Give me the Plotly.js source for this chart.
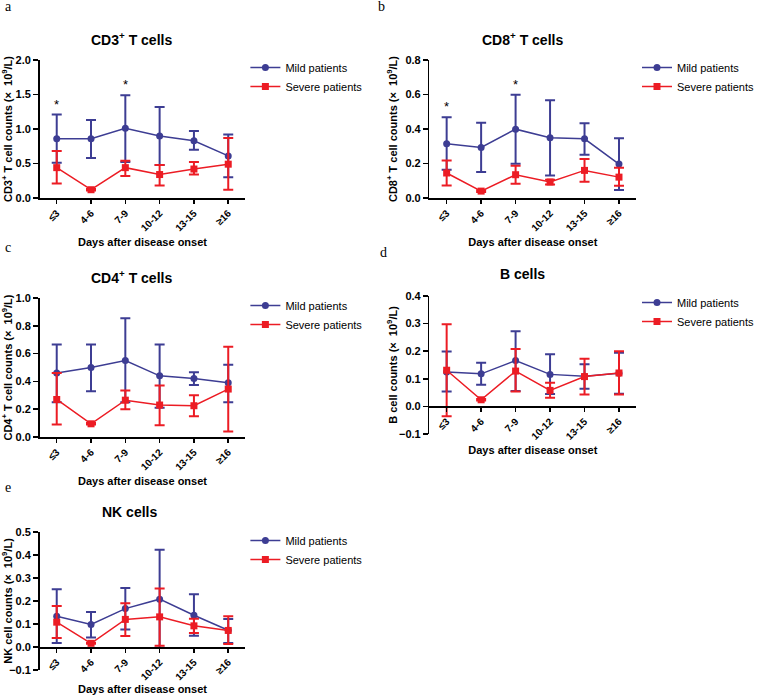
<!DOCTYPE html>
<html>
<head>
<meta charset="utf-8">
<script src="https://cdn.plot.ly/plotly-3.0.1.min.js"></script>
<style>html,body{margin:0;padding:0;background:#fff;}#chart{width:759px;height:695px;}</style>
</head>
<body>
<div id="chart"></div>
<script>
// ---------- data ----------
const categories = ["≤3", "4-6", "7-9", "10-12", "13-15", "≥16"];
const seriesNames = ["Mild patients", "Severe patients"];

const cd3Mild        = [0.86, 0.86, 1.01, 0.90, 0.83, 0.61];
const cd3MildUpper   = [1.21, 1.13, 1.49, 1.32, 0.97, 0.92];
const cd3MildLower   = [0.51, 0.58, 0.52, 0.48, 0.70, 0.30];
const cd3Severe      = [0.44, 0.12, 0.44, 0.34, 0.42, 0.49];
const cd3SevereUpper = [0.68, 0.13, 0.54, 0.48, 0.52, 0.87];
const cd3SevereLower = [0.21, 0.11, 0.32, 0.18, 0.34, 0.12];
const cd3Signif      = ["*", "", "*", "", "", ""];

const cd8Mild        = [0.315, 0.293, 0.399, 0.350, 0.343, 0.197];
const cd8MildUpper   = [0.468, 0.436, 0.598, 0.567, 0.434, 0.347];
const cd8MildLower   = [0.164, 0.150, 0.199, 0.131, 0.251, 0.046];
const cd8Severe      = [0.145, 0.040, 0.135, 0.093, 0.160, 0.121];
const cd8SevereUpper = [0.218, 0.045, 0.187, 0.106, 0.226, 0.175];
const cd8SevereLower = [0.073, 0.035, 0.083, 0.078, 0.094, 0.071];
const cd8Signif      = ["*", "", "*", "", "", ""];

const cd4Mild        = [0.46, 0.50, 0.55, 0.44, 0.42, 0.39];
const cd4MildUpper   = [0.665, 0.665, 0.855, 0.665, 0.465, 0.52];
const cd4MildLower   = [0.25, 0.33, 0.25, 0.21, 0.375, 0.25];
const cd4Severe      = [0.27, 0.095, 0.265, 0.23, 0.225, 0.345];
const cd4SevereUpper = [0.46, 0.10, 0.335, 0.37, 0.30, 0.65];
const cd4SevereLower = [0.09, 0.09, 0.20, 0.085, 0.15, 0.04];
const cd4Signif      = ["", "", "", "", "", ""];

const bMild          = [0.125, 0.118, 0.166, 0.116, 0.109, 0.120];
const bMildUpper     = [0.199, 0.158, 0.272, 0.189, 0.153, 0.194];
const bMildLower     = [0.054, 0.078, 0.056, 0.045, 0.064, 0.046];
const bSevere        = [0.131, 0.024, 0.128, 0.058, 0.108, 0.121];
const bSevereUpper   = [0.298, 0.027, 0.208, 0.086, 0.173, 0.200];
const bSevereLower   = [-0.036, 0.021, 0.054, 0.031, 0.043, 0.043];
const bSignif        = ["", "", "", "", "", ""];

const nkMild         = [0.134, 0.098, 0.167, 0.208, 0.138, 0.073];
const nkMildUpper    = [0.251, 0.152, 0.257, 0.423, 0.229, 0.122];
const nkMildLower    = [0.017, 0.041, 0.076, -0.003, 0.049, 0.017];
const nkSevere       = [0.108, 0.016, 0.120, 0.131, 0.092, 0.072];
const nkSevereUpper  = [0.178, 0.018, 0.190, 0.254, 0.123, 0.134];
const nkSevereLower  = [0.039, 0.014, 0.048, 0.005, 0.061, 0.013];
const nkSignif       = ["", "", "", "", "", ""];

const panelTitles = ["CD3<sup>+</sup> T cells", "CD8<sup>+</sup> T cells", "CD4<sup>+</sup> T cells", "B cells", "NK cells"];
const yTitles = [
  "CD3<sup>+</sup> T cell counts (×  10<sup>9</sup>/L)",
  "CD8<sup>+</sup> T cell counts (×  10<sup>9</sup>/L)",
  "CD4<sup>+</sup> T cell counts (×  10<sup>9</sup>/L)",
  "B cell counts (×  10<sup>9</sup>/L)",
  "NK cell counts (×  10<sup>9</sup>/L)"
];
const panelLetters = ["a", "b", "c", "d", "e"];
const xTitle = "Days after disease onset";
const yRanges = [[0, 2], [0, 0.8], [0, 1], [-0.1, 0.4], [-0.1, 0.5]];
const yDticks = [0.5, 0.2, 0.2, 0.1, 0.1];

// ---------- layout geometry (pixels) ----------
const W = 759, H = 695;
const px = v => v / W;
const py = v => 1 - v / H;
const geo = [
  {l: 40,  r: 248, t: 60,  b: 198, tx: 133, ty: 39,  lx: 248, ly: 53,  letx: 3,   lety: 7},
  {l: 434, r: 643, t: 60,  b: 198, tx: 528, ty: 39,  lx: 644, ly: 53,  letx: 380, lety: 7},
  {l: 40,  r: 248, t: 298, b: 437, tx: 133, ty: 277, lx: 248, ly: 291, letx: 3,   lety: 248},
  {l: 434, r: 643, t: 296, b: 434, tx: 528, ty: 274, lx: 644, ly: 288, letx: 382, lety: 252},
  {l: 40,  r: 248, t: 532, b: 670, tx: 131, ty: 512, lx: 248, ly: 526, letx: 3,   lety: 487}
];

const panelData = [
  [cd3Mild, cd3MildUpper, cd3MildLower, cd3Severe, cd3SevereUpper, cd3SevereLower, cd3Signif],
  [cd8Mild, cd8MildUpper, cd8MildLower, cd8Severe, cd8SevereUpper, cd8SevereLower, cd8Signif],
  [cd4Mild, cd4MildUpper, cd4MildLower, cd4Severe, cd4SevereUpper, cd4SevereLower, cd4Signif],
  [bMild, bMildUpper, bMildLower, bSevere, bSevereUpper, bSevereLower, bSignif],
  [nkMild, nkMildUpper, nkMildLower, nkSevere, nkSevereUpper, nkSevereLower, nkSignif]
];

const BLUE = "#3d3d93", RED = "#ec1c24";
const FONT = "'Liberation Sans', Arial, Helvetica, sans-serif";

const traces = [];
const annotations = [];
const layout = {
  width: W, height: H,
  margin: {l: 0, r: 0, t: 0, b: 0},
  paper_bgcolor: "#fff", plot_bgcolor: "rgba(0,0,0,0)",
  font: {family: FONT, color: "#000"},
  showlegend: true,
  annotations: annotations
};

panelData.forEach((d, i) => {
  const n = i + 1;
  const xa = n === 1 ? "x" : "x" + n;
  const ya = n === 1 ? "y" : "y" + n;
  const lg = n === 1 ? "legend" : "legend" + n;
  const g = geo[i];
  const [mean1, up1, lo1, mean2, up2, lo2, sig] = d;
  const series = [
    {name: seriesNames[0], y: mean1, up: up1, lo: lo1, color: BLUE, symbol: "circle", size: 7},
    {name: seriesNames[1], y: mean2, up: up2, lo: lo2, color: RED, symbol: "square", size: 7}
  ];
  series.forEach(s => {
    traces.push({
      type: "scatter", mode: "lines+markers",
      x: categories, y: s.y, name: s.name,
      xaxis: xa, yaxis: ya, legend: lg,
      line: {color: s.color, width: 1.5},
      marker: {color: s.color, symbol: s.symbol, size: s.size},
      error_y: {
        type: "data", symmetric: false,
        array: s.up.map((u, k) => u - s.y[k]),
        arrayminus: s.lo.map((v, k) => s.y[k] - v),
        color: s.color, thickness: 2, width: 5
      },
      cliponaxis: false
    });
  });

  const ydom = [py(g.b), py(g.t)];
  const xdom = [px(g.l), px(g.r)];
  const yr = yRanges[i];
  const xaxis = {
    domain: xdom, type: "category", range: [-0.5, 5.5],
    showline: true, linecolor: "#000", linewidth: 1.5,
    ticks: "outside", ticklen: 4, tickwidth: 1.5, tickcolor: "#000",
    tickangle: -45, showgrid: false, zeroline: false, automargin: false,
    tickfont: {family: FONT, size: 10, weight: "bold"},
    title: {text: xTitle, font: {family: FONT, size: 11, weight: "bold"}}
  };
  if (yr[0] < 0) {
    xaxis.anchor = "free";
    xaxis.position = ydom[0] + (0 - yr[0]) / (yr[1] - yr[0]) * (ydom[1] - ydom[0]);
  } else {
    xaxis.anchor = ya;
  }
  const yaxis = {
    domain: ydom, range: yr, dtick: yDticks[i], tick0: 0, tickformat: ".1f",
    anchor: xa, showline: true, linecolor: "#000", linewidth: 1.5,
    ticks: "outside", ticklen: 5, tickwidth: 1.5, tickcolor: "#000",
    showgrid: false, zeroline: false, automargin: false,
    tickfont: {family: FONT, size: 11, weight: "bold"},
    title: {text: yTitles[i], font: {family: FONT, size: 11, weight: "bold"}}
  };
  layout["xaxis" + (n === 1 ? "" : n)] = xaxis;
  layout["yaxis" + (n === 1 ? "" : n)] = yaxis;
  layout[lg] = {
    x: px(g.lx), y: py(g.ly), xanchor: "left", yanchor: "top",
    bgcolor: "rgba(0,0,0,0)", borderwidth: 0,
    font: {family: FONT, size: 11, color: "#000"}
  };

  annotations.push({
    xref: "paper", yref: "paper", x: px(g.tx), y: py(g.ty),
    xanchor: "center", yanchor: "middle", showarrow: false,
    text: panelTitles[i], font: {family: FONT, size: 14, weight: "bold"}
  });
  annotations.push({
    xref: "paper", yref: "paper", x: px(g.letx), y: py(g.lety),
    xanchor: "left", yanchor: "middle", showarrow: false,
    text: panelLetters[i], font: {family: "'Liberation Serif', 'Times New Roman', serif", size: 14}
  });
  sig.forEach((s, k) => {
    if (!s) return;
    annotations.push({
      xref: xa, yref: ya, x: categories[k], y: up1[k],
      xanchor: "center", yanchor: "bottom", yshift: 1, showarrow: false,
      text: s, font: {family: FONT, size: 13}
    });
  });
});

Plotly.newPlot("chart", traces, layout, {staticPlot: true, displayModeBar: false});
</script>
</body>
</html>
